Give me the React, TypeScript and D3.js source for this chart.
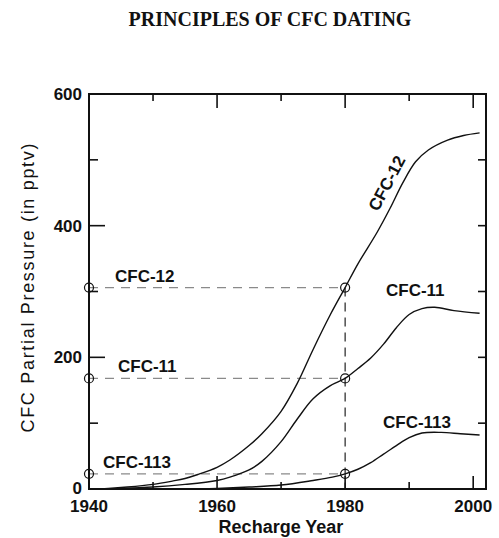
import React from "react";
import * as d3 from "d3";

const years12 = [1940, 1943, 1946, 1950, 1953, 1955, 1957, 1960, 1962, 1965, 1967, 1970, 1972.5, 1975, 1977.7, 1980, 1982, 1985, 1987, 1989, 1991, 1993, 1996, 1998.5, 2001];
const cfc12 = [0, 1, 3, 7, 12, 16, 22, 33, 44, 66, 84, 118, 160, 212, 265, 306, 342, 390, 426, 465, 497, 515, 530, 537, 541];

const years11 = [1940, 1945, 1950, 1955, 1960, 1962, 1965, 1967, 1970, 1972.5, 1975, 1977.7, 1980, 1982, 1984, 1986, 1988, 1990, 1992, 1994, 1997, 2001];
const cfc11 = [0, 1, 3, 7, 13, 18, 29, 42, 72, 106, 137, 157, 168, 183, 199, 220, 245, 265, 274, 276, 271, 267];

const years113 = [1940, 1955, 1960, 1965, 1970, 1975, 1978, 1980, 1982, 1984, 1986, 1988, 1990, 1992, 1995, 1998, 2001];
const cfc113 = [0, 0, 1, 3, 6, 13, 18, 23, 30, 40, 53, 66, 78, 85, 86, 84, 82];

const datingYear = 1980;
const datingValues = [306, 168, 23];
const datingLabels = ["CFC-12", "CFC-11", "CFC-113"];

const xTicksMajor = [1940, 1960, 1980, 2000];
const xTicksMinor = [1950, 1970, 1990];
const yTicksMajor = [0, 200, 400, 600];
const yTicksMinor = [100, 300, 500];

const title = "PRINCIPLES OF CFC DATING";
const xTitle = "Recharge Year";
const yTitle = "CFC Partial Pressure (in pptv)";

export default function App() {
  const x = d3.scaleLinear().domain([1940, 2002]).range([89, 486]);
  const y = d3.scaleLinear().domain([0, 600]).range([489, 94]);
  const line = d3
    .line<[number, number]>()
    .x((d) => x(d[0]))
    .y((d) => y(d[1]))
    .curve(d3.curveCatmullRom.alpha(0.5));

  const series = [
    years12.map((yr, i) => [yr, cfc12[i]] as [number, number]),
    years11.map((yr, i) => [yr, cfc11[i]] as [number, number]),
    years113.map((yr, i) => [yr, cfc113[i]] as [number, number]),
  ];

  const x0 = x(1940), x1 = x(2002), y0 = y(0), y1 = y(600);
  const font = "'Liberation Sans', Arial, sans-serif";
  const xd = x(datingYear);

  const leftLabelPos = [
    { dx: 26, dy: -6 },
    { dx: 29, dy: -6 },
    { dx: 14, dy: -6 },
  ];

  return (
    <svg width={499} height={538} style={{ position: "absolute", left: 0, top: 0, background: "#fff" }}>
      <text x={270} y={26} textAnchor="middle" fontFamily="'Liberation Serif', 'Times New Roman', serif" fontWeight="bold" fontSize={20} fill="#111">
        {title}
      </text>

      {/* dashed guides */}
      {datingValues.map((v, i) => (
        <line key={"h" + i} x1={x0} x2={xd} y1={y(v)} y2={y(v)} stroke="#8a8a8a" strokeWidth={1.2} strokeDasharray="9,7" />
      ))}
      <line x1={xd} x2={xd} y1={y(datingValues[0])} y2={y0} stroke="#222" strokeWidth={1.2} strokeDasharray="9,6" />

      {/* curves */}
      {series.map((s, i) => (
        <path key={"s" + i} d={line(s) || ""} fill="none" stroke="#111" strokeWidth={1.4} />
      ))}

      {/* circles */}
      {datingValues.map((v, i) => (
        <g key={"c" + i}>
          <circle cx={x0} cy={y(v)} r={4.5} fill="none" stroke="#111" strokeWidth={1.2} />
          <circle cx={xd} cy={y(v)} r={4.5} fill="none" stroke="#111" strokeWidth={1.2} />
        </g>
      ))}

      {/* frame */}
      <rect x={x0} y={y1} width={x1 - x0} height={y0 - y1} fill="none" stroke="#111" strokeWidth={2} />

      {/* x ticks */}
      {xTicksMajor.map((t) => (
        <g key={"xM" + t}>
          <line x1={x(t)} x2={x(t)} y1={y0} y2={y0 - 13} stroke="#111" strokeWidth={1.6} />
          <line x1={x(t)} x2={x(t)} y1={y1} y2={y1 + 14} stroke="#111" strokeWidth={1.6} />
          <text x={x(t)} y={512} textAnchor="middle" fontFamily={font} fontWeight="bold" fontSize={17} fill="#111">
            {t}
          </text>
        </g>
      ))}
      {xTicksMinor.map((t) => (
        <g key={"xm" + t}>
          <line x1={x(t)} x2={x(t)} y1={y0} y2={y0 - 7} stroke="#111" strokeWidth={1.6} />
          <line x1={x(t)} x2={x(t)} y1={y1} y2={y1 + 7} stroke="#111" strokeWidth={1.6} />
        </g>
      ))}

      {/* y ticks */}
      {yTicksMajor.map((t) => (
        <g key={"yM" + t}>
          <line x1={x0} x2={x0 + 16} y1={y(t)} y2={y(t)} stroke="#111" strokeWidth={1.6} />
          <line x1={x1} x2={x1 - 8} y1={y(t)} y2={y(t)} stroke="#111" strokeWidth={1.6} />
          <text x={82} y={y(t) + (t === 0 ? 5 : 6)} textAnchor="end" fontFamily={font} fontWeight="bold" fontSize={17} fill="#111">
            {t}
          </text>
        </g>
      ))}
      {yTicksMinor.map((t) => (
        <g key={"ym" + t}>
          <line x1={x0} x2={x0 + 9} y1={y(t)} y2={y(t)} stroke="#111" strokeWidth={1.6} />
          <line x1={x1} x2={x1 - 8} y1={y(t)} y2={y(t)} stroke="#111" strokeWidth={1.6} />
        </g>
      ))}

      {/* axis titles */}
      <text x={281} y={533} textAnchor="middle" fontFamily={font} fontWeight="bold" fontSize={18} fill="#111">
        {xTitle}
      </text>
      <text
        transform={`translate(34,288) rotate(-90)`}
        textAnchor="middle"
        fontFamily={font}
        fontSize={18}
        fill="#111"
        textLength={289}
        lengthAdjust="spacing"
      >
        {yTitle}
      </text>

      {/* left labels */}
      {datingLabels.map((lab, i) => (
        <text key={"ll" + i} x={x0 + leftLabelPos[i].dx} y={y(datingValues[i]) + leftLabelPos[i].dy} fontFamily={font} fontWeight="bold" fontSize={17} fill="#111">
          {lab}
        </text>
      ))}

      {/* curve labels */}
      <text transform={`translate(392,186) rotate(-62)`} textAnchor="middle" fontFamily={font} fontWeight="bold" fontSize={17} fill="#111">
        {datingLabels[0]}
      </text>
      <text x={386} y={296} fontFamily={font} fontWeight="bold" fontSize={17} fill="#111">
        {datingLabels[1]}
      </text>
      <text x={383} y={428} fontFamily={font} fontWeight="bold" fontSize={17} fill="#111">
        {datingLabels[2]}
      </text>
    </svg>
  );
}
